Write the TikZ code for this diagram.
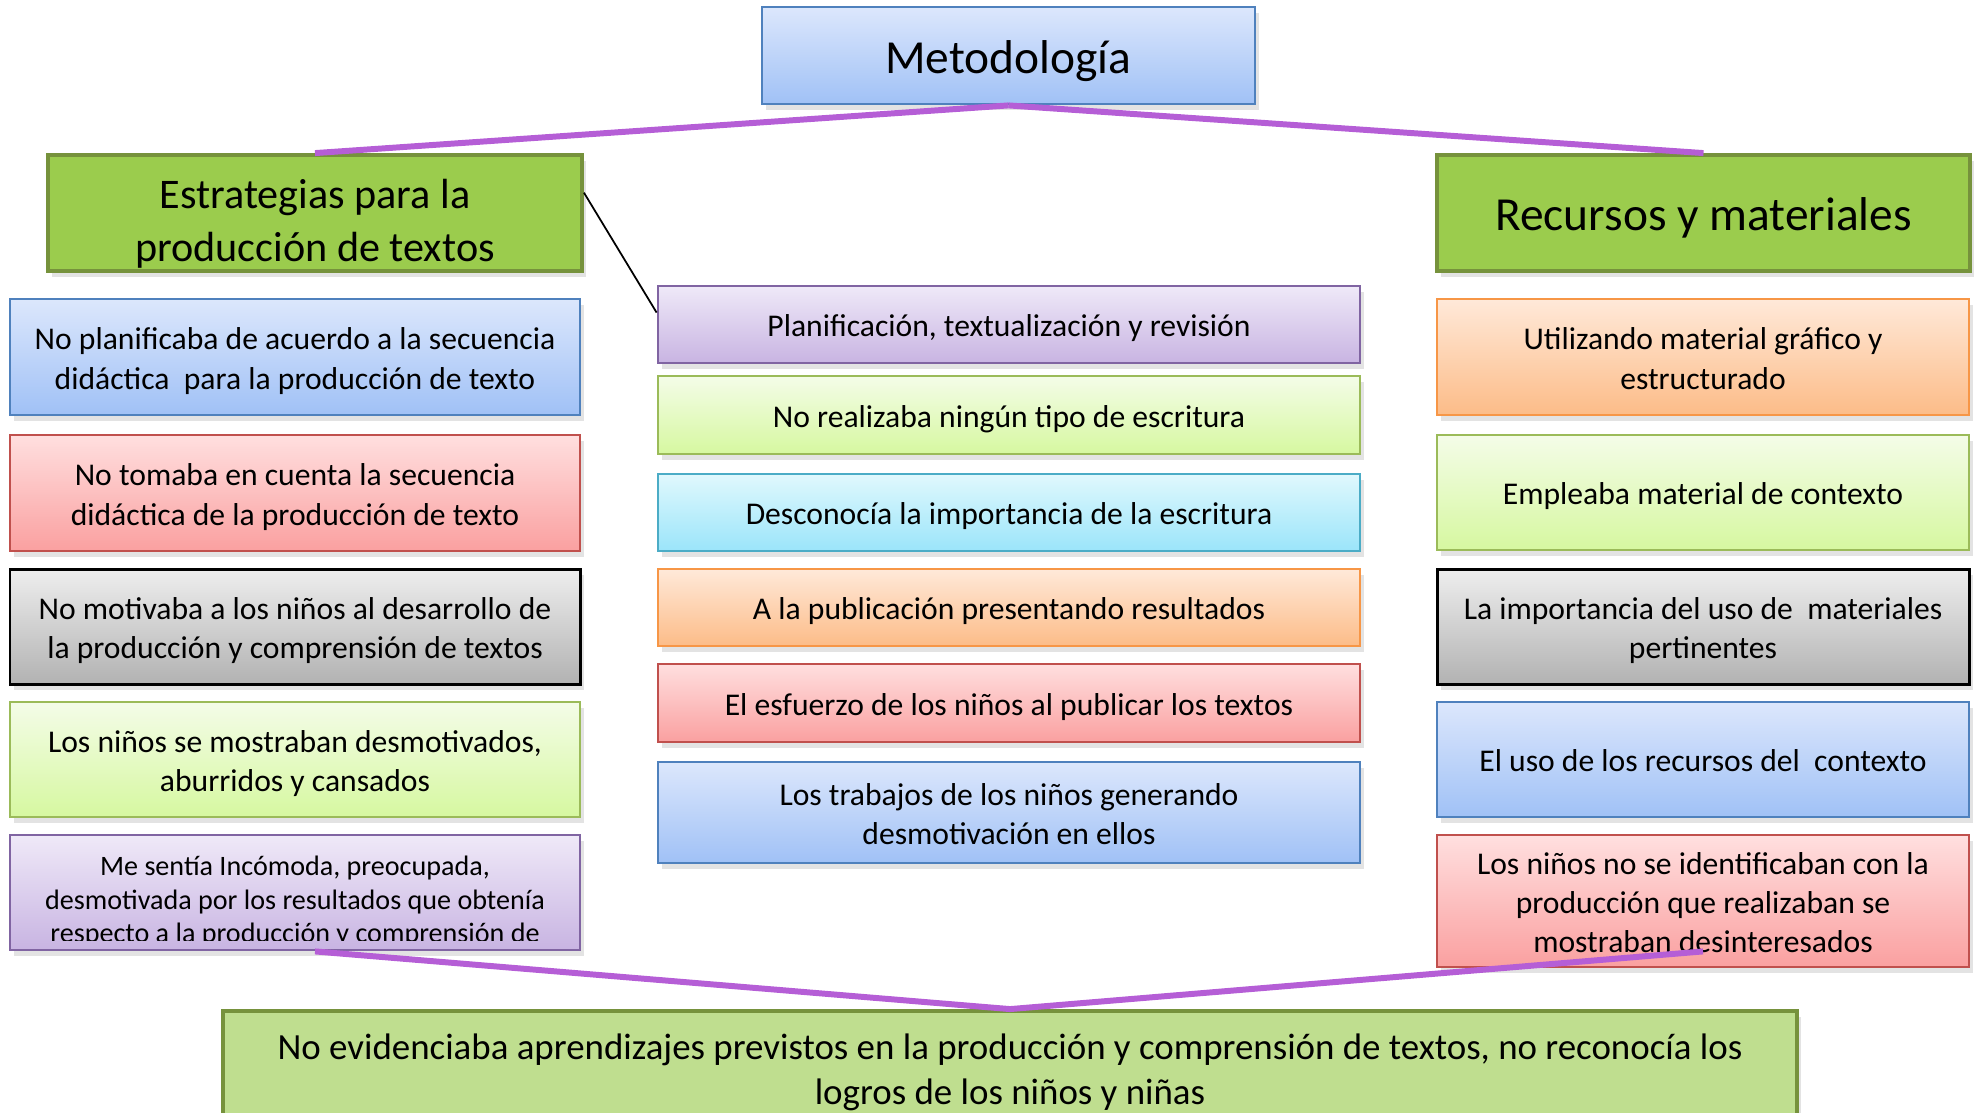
\documentclass[tikz,border=0pt]{standalone}
\usepackage{fontspec}
\setmainfont{Carlito}
\usetikzlibrary{shadows,calc}
\definecolor{blueT}{RGB}{220,231,252}\definecolor{blueB}{RGB}{160,193,246}\definecolor{blueD}{RGB}{79,129,189}
\definecolor{redT}{RGB}{255,223,223}\definecolor{redB}{RGB}{250,160,160}\definecolor{redD}{RGB}{192,80,77}
\definecolor{grayT}{RGB}{238,238,238}\definecolor{grayB}{RGB}{178,178,178}
\definecolor{lgT}{RGB}{244,252,232}\definecolor{lgB}{RGB}{214,248,160}\definecolor{lgD}{RGB}{155,187,89}
\definecolor{purT}{RGB}{239,233,248}\definecolor{purB}{RGB}{200,180,226}\definecolor{purD}{RGB}{128,100,162}
\definecolor{cyT}{RGB}{224,248,253}\definecolor{cyB}{RGB}{155,229,250}\definecolor{cyD}{RGB}{75,172,198}
\definecolor{orT}{RGB}{255,233,217}\definecolor{orB}{RGB}{252,188,136}\definecolor{orD}{RGB}{247,150,70}
\definecolor{hdrG}{RGB}{155,204,77}\definecolor{hdrD}{RGB}{118,146,60}
\definecolor{botG}{RGB}{191,222,143}
\definecolor{plin}{RGB}{181,94,214}
% lowered text block, reported with its natural size so the node keeps centring it
\newcommand\bt[2][1.3pt]{\raisebox{-#1}[\height][\depth]{\begin{tabular}{@{}c@{}}#2\end{tabular}}}
\begin{document}
\begin{tikzpicture}[x=0.1mm,y=-0.1mm,
  box/.style={draw, line width=0.8pt, inner sep=0pt,
    font=\fontsize{9}{11.2}\selectfont,
    drop shadow={shadow xshift=0.35mm, shadow yshift=-0.6mm, opacity=0.22}},
  cb/.style n args={3}{top color=#1, bottom color=#2, draw=#3},
  hdr/.style={fill=hdrG, draw=hdrD, line width=1.1pt},
  pline/.style={draw=plin, line width=1.7pt},
  lw/.style={minimum width=57mm},
  rw/.style={minimum width=53.2mm},
  mw/.style={minimum width=70.2mm}]
\useasboundingbox (0,0) rectangle (1982,1112);

% top
\node[box, cb={blueT}{blueB}{blueD}, minimum width=49.3mm, minimum height=9.7mm,
  font=\fontsize{13.5}{16}\selectfont] (meto) at (1008.5,55.5) {\bt[1.8pt]{Metodología}};
\node[box, hdr, minimum width=53.4mm, minimum height=11.6mm] (estr) at (315,213) {};
\node[box, hdr, minimum width=53.3mm, minimum height=11.6mm,
  font=\fontsize{13.5}{16}\selectfont] (recu) at (1703.5,213) {\bt[1.8pt]{Recursos y materiales}};
\begin{scope}
  \clip (estr.north west) rectangle ($(estr.south east)+(0,-1)$);
  \node[anchor=base, inner sep=0pt, font=\fontsize{12}{14.5}\selectfont] (estr1) at (315,208) {Estrategias para la};
  \node[anchor=base, inner sep=0pt, font=\fontsize{12}{14.5}\selectfont] (estr2) at (315,261) {producción de textos};
\end{scope}

% left column
\node[box, lw, cb={blueT}{blueB}{blueD}, minimum height=11.6mm] (L1) at (295,357)
  {\bt{No planificaba de acuerdo a la secuencia\\didáctica\ \ para la producción de texto}};
\node[box, lw, cb={redT}{redB}{redD}, minimum height=11.6mm] (L2) at (295,493)
  {\bt{No tomaba en cuenta la secuencia\\didáctica de la producción de texto}};
\node[box, lw, cb={grayT}{grayB}{black}, line width=0.85pt, minimum height=11.5mm] (L3) at (295,626.5)
  {\bt{No motivaba a los niños al desarrollo de\\la producción y comprensión de textos}};
\node[box, lw, cb={lgT}{lgB}{lgD}, minimum height=11.5mm] (L4) at (295,759.5)
  {\bt{Los niños se mostraban desmotivados,\\aburridos y cansados}};
\node[box, lw, cb={purT}{purB}{purD}, minimum height=11.5mm] (L5) at (295,892.5) {};
\begin{scope}
  \clip (20,840) rectangle (570,940);
  \node[anchor=base, inner sep=0pt, font=\fontsize{8}{9.7}\selectfont] (L5a) at (295,875) {Me sentía Incómoda, preocupada,};
  \node[anchor=base, inner sep=0pt, font=\fontsize{8}{9.7}\selectfont] (L5b) at (295,909) {desmotivada por los resultados que obtenía};
  \node[anchor=base, inner sep=0pt, font=\fontsize{8}{9.7}\selectfont] (L5c) at (295,942) {respecto a la producción y comprensión de};
\end{scope}

% middle column
\node[box, mw, cb={purT}{purB}{purD}, minimum height=7.7mm] (M1) at (1009,324.5)
  {\bt{Planificación, textualización y revisión}};
\node[box, mw, cb={lgT}{lgB}{lgD}, minimum height=7.8mm] (M2) at (1009,415)
  {\bt{No realizaba ningún tipo de escritura}};
\node[box, mw, cb={cyT}{cyB}{cyD}, minimum height=7.7mm] (M3) at (1009,512.5)
  {\bt{Desconocía la importancia de la escritura}};
\node[box, mw, cb={orT}{orB}{orD}, minimum height=7.7mm] (M4) at (1009,607.5)
  {\bt{A la publicación presentando resultados}};
\node[box, mw, cb={redT}{redB}{redD}, minimum height=7.8mm] (M5) at (1009,703)
  {\bt{El esfuerzo de los niños al publicar los textos}};
\node[box, mw, cb={blueT}{blueB}{blueD}, minimum height=10.1mm] (M6) at (1009,812.5)
  {\bt{Los trabajos de los niños generando\\desmotivación en ellos}};

% right column
\node[box, rw, cb={orT}{orB}{orD}, minimum height=11.6mm] (R1) at (1703,357)
  {\bt{Utilizando material gráfico y\\estructurado}};
\node[box, rw, cb={lgT}{lgB}{lgD}, minimum height=11.5mm] (R2) at (1703,492.5)
  {\bt{Empleaba material de contexto}};
\node[box, rw, cb={grayT}{grayB}{black}, line width=0.85pt, minimum height=11.5mm] (R3) at (1703,626.5)
  {\bt{La importancia del uso de\ \ materiales\\pertinentes}};
\node[box, rw, cb={blueT}{blueB}{blueD}, minimum height=11.5mm] (R4) at (1703,759.5)
  {\bt{El uso de los recursos del\ \ contexto}};
\node[box, rw, cb={redT}{redB}{redD}, minimum height=13.2mm] (R5) at (1703,901)
  {\bt{Los niños no se identificaban con la\\producción que realizaban se\\mostraban desinteresados}};

% bottom
\node[box, hdr, fill=botG, minimum width=157.4mm, minimum height=15mm] (B) at (1010,1086) {};
\node[anchor=base, inner sep=0pt, font=\fontsize{10.5}{12.8}\selectfont] (B1) at (1010,1059)
  {No evidenciaba aprendizajes previstos en la producción y comprensión de textos, no reconocía los};
\node[anchor=base, inner sep=0pt, font=\fontsize{10.5}{12.8}\selectfont] (B2) at (1010,1104)
  {logros de los niños y niñas};

% connectors
\coordinate (l5c) at ($(L5.south)+(20,0)$);
\coordinate (r5c) at ($(R5.south)+(0,-17)$);
\coordinate (estrE) at ($(estr.north east)!0.33!(estr.south east)$);
\coordinate (m1W) at ($(M1.north west)!0.35!(M1.south west)$);
\draw[pline] (estr.north) -- (meto.south);
\draw[pline] (recu.north) -- (meto.south);
\draw[pline] (l5c) -- (B.north);
\draw[pline] (r5c) -- (B.north);
\draw[line width=0.5pt] (estrE) -- (m1W);
\end{tikzpicture}
\end{document}
